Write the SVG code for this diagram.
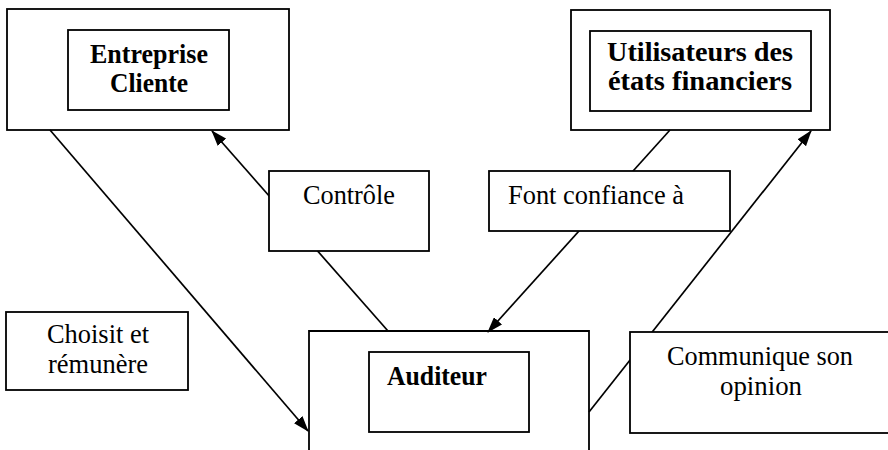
<svg xmlns="http://www.w3.org/2000/svg" width="888" height="450" viewBox="0 0 888 450">
  <style>
    .box { fill: #ffffff; stroke: #000000; stroke-width: 1.8; }
    .open { fill: none; stroke: #000000; stroke-width: 1.8; }
    .conn { fill: none; stroke: #000000; stroke-width: 1.7; }
    .b { font-family: "Liberation Serif", "Times New Roman", serif; font-weight: bold; font-size: 27px; fill: #000000; }
    .r { font-family: "Liberation Serif", "Times New Roman", serif; font-size: 27px; fill: #000000; }
  </style>
  <defs>
    <marker id="arrow" markerWidth="16" markerHeight="11" refX="15" refY="5.5" orient="auto" markerUnits="userSpaceOnUse">
      <path d="M0,0 L16,5.5 L0,11 Z" fill="#000000"/>
    </marker>
  </defs>
  <rect width="888" height="450" fill="#ffffff"/>

  <g id="entreprise-cliente">
    <rect class="box" x="7" y="9" width="282" height="121"/>
    <rect class="box" x="68" y="30" width="161" height="80"/>
    <text class="b" x="149" y="63" text-anchor="middle" textLength="118" lengthAdjust="spacingAndGlyphs">Entreprise</text>
    <text class="b" x="149" y="92" text-anchor="middle" textLength="78" lengthAdjust="spacingAndGlyphs">Cliente</text>
  </g>

  <g id="utilisateurs">
    <rect class="box" x="571" y="10" width="259" height="120"/>
    <rect class="box" x="590" y="31" width="221" height="80"/>
    <text class="b" x="700" y="61" text-anchor="middle" textLength="186" lengthAdjust="spacingAndGlyphs">Utilisateurs des</text>
    <text class="b" x="700" y="90" text-anchor="middle" textLength="184" lengthAdjust="spacingAndGlyphs">états financiers</text>
  </g>

  <g id="auditeur">
    <path class="open" d="M309,452 L309,331 L589,331 L589,452"/>
    <rect class="box" x="369" y="352" width="160" height="80"/>
    <text class="b" x="387" y="385" textLength="100" lengthAdjust="spacingAndGlyphs">Auditeur</text>
  </g>

  <g id="connectors">
    <line class="conn" x1="50" y1="130" x2="308" y2="431" marker-end="url(#arrow)"/>
    <line class="conn" x1="388" y1="331" x2="212" y2="131" marker-end="url(#arrow)"/>
    <line class="conn" x1="670" y1="130" x2="488" y2="332" marker-end="url(#arrow)"/>
    <line class="conn" x1="589" y1="412" x2="811" y2="131" marker-end="url(#arrow)"/>
  </g>

  <g id="label-controle">
    <rect class="box" x="269" y="171" width="160" height="80"/>
    <text class="r" x="349" y="204" text-anchor="middle" textLength="92" lengthAdjust="spacingAndGlyphs">Contrôle</text>
  </g>

  <g id="label-font-confiance">
    <rect class="box" x="489" y="171" width="241" height="60"/>
    <text class="r" x="508" y="204" textLength="176" lengthAdjust="spacingAndGlyphs">Font confiance à</text>
  </g>

  <g id="label-choisit">
    <rect class="box" x="6" y="312" width="182" height="78"/>
    <text class="r" x="98" y="343" text-anchor="middle" textLength="102" lengthAdjust="spacingAndGlyphs">Choisit et</text>
    <text class="r" x="98" y="373" text-anchor="middle" textLength="100" lengthAdjust="spacingAndGlyphs">rémunère</text>
  </g>

  <g id="label-communique">
    <rect class="box" x="630" y="332" width="264" height="101"/>
    <text class="r" x="760" y="365" text-anchor="middle" textLength="186" lengthAdjust="spacingAndGlyphs">Communique son</text>
    <text class="r" x="761" y="395" text-anchor="middle" textLength="82" lengthAdjust="spacingAndGlyphs">opinion</text>
  </g>
</svg>
